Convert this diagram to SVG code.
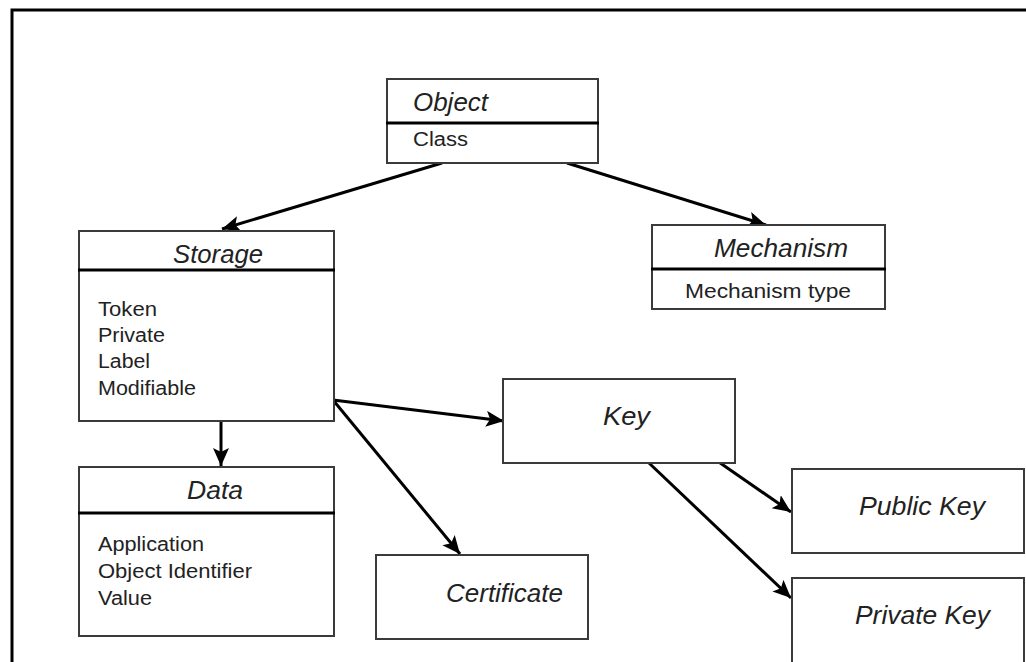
<svg xmlns="http://www.w3.org/2000/svg" width="1026" height="662" viewBox="0 0 1026 662">
<style>
.box{fill:#fff;stroke:#3a3a3a;stroke-width:2}
.div{stroke:#000;stroke-width:3}
.t{font-family:"Liberation Sans",Arial,sans-serif;font-style:italic;font-size:25px;fill:#222}
.b{font-family:"Liberation Sans",Arial,sans-serif;font-size:20px;fill:#222}
.c{stroke:#000;stroke-width:3;fill:none;marker-end:url(#ah)}
</style>
<defs>
<marker id="ah" markerUnits="userSpaceOnUse" markerWidth="22" markerHeight="18" refX="18" refY="8" orient="auto">
<path d="M0,0 L18,8 L0,16 L4,8 z" fill="#000"/>
</marker>
</defs>
<rect width="1026" height="662" fill="#fff"/>
<g id="frame">
<path d="M12,662 V10 H1026" fill="none" stroke="#000" stroke-width="3"/>
</g>
<g id="connectors">
<line class="c" x1="442" y1="163" x2="222" y2="229"/>
<line class="c" x1="567" y1="163" x2="766" y2="225"/>
<line class="c" x1="333" y1="400" x2="504" y2="421"/>
<line class="c" x1="333" y1="400" x2="460" y2="554"/>
<line class="c" x1="221" y1="422" x2="221" y2="466"/>
<line class="c" x1="713" y1="458" x2="791" y2="512"/>
<line class="c" x1="649" y1="463" x2="791" y2="598"/>
</g>
<g id="object">
<rect class="box" x="387" y="79" width="211" height="84"/>
<line class="div" x1="386" y1="123" x2="599" y2="123"/>
<text class="t" x="413" y="111" textLength="75" lengthAdjust="spacingAndGlyphs">Object</text>
<text class="b" x="413" y="146" textLength="55" lengthAdjust="spacingAndGlyphs">Class</text>
</g>
<g id="storage">
<rect class="box" x="79" y="231" width="255" height="190"/>
<line class="div" x1="78" y1="270" x2="335" y2="270"/>
<text class="t" x="173" y="263" textLength="90" lengthAdjust="spacingAndGlyphs">Storage</text>
<text class="b" x="98" y="316" textLength="59" lengthAdjust="spacingAndGlyphs">Token</text>
<text class="b" x="98" y="342" textLength="67" lengthAdjust="spacingAndGlyphs">Private</text>
<text class="b" x="98" y="368" textLength="52" lengthAdjust="spacingAndGlyphs">Label</text>
<text class="b" x="98" y="395" textLength="98" lengthAdjust="spacingAndGlyphs">Modifiable</text>
</g>
<g id="mechanism">
<rect class="box" x="652" y="225" width="233" height="84"/>
<line class="div" x1="651" y1="269" x2="886" y2="269"/>
<text class="t" x="714" y="257" textLength="134" lengthAdjust="spacingAndGlyphs">Mechanism</text>
<text class="b" x="685" y="298" textLength="166" lengthAdjust="spacingAndGlyphs">Mechanism type</text>
</g>
<g id="data">
<rect class="box" x="79" y="467" width="255" height="169"/>
<line class="div" x1="78" y1="513" x2="335" y2="513"/>
<text class="t" x="187" y="499" textLength="56" lengthAdjust="spacingAndGlyphs">Data</text>
<text class="b" x="98" y="551" textLength="106" lengthAdjust="spacingAndGlyphs">Application</text>
<text class="b" x="98" y="578" textLength="154" lengthAdjust="spacingAndGlyphs">Object Identifier</text>
<text class="b" x="98" y="605" textLength="54" lengthAdjust="spacingAndGlyphs">Value</text>
</g>
<g id="key">
<rect class="box" x="503" y="379" width="232" height="84"/>
<text class="t" x="603" y="425" textLength="47" lengthAdjust="spacingAndGlyphs">Key</text>
</g>
<g id="certificate">
<rect class="box" x="376" y="555" width="212" height="84"/>
<text class="t" x="446" y="602" textLength="117" lengthAdjust="spacingAndGlyphs">Certificate</text>
</g>
<g id="public-key">
<rect class="box" x="792" y="469" width="232" height="84"/>
<text class="t" x="859" y="515" textLength="126" lengthAdjust="spacingAndGlyphs">Public Key</text>
</g>
<g id="private-key">
<rect class="box" x="792" y="578" width="232" height="100"/>
<text class="t" x="855" y="624" textLength="135" lengthAdjust="spacingAndGlyphs">Private Key</text>
</g>
</svg>
